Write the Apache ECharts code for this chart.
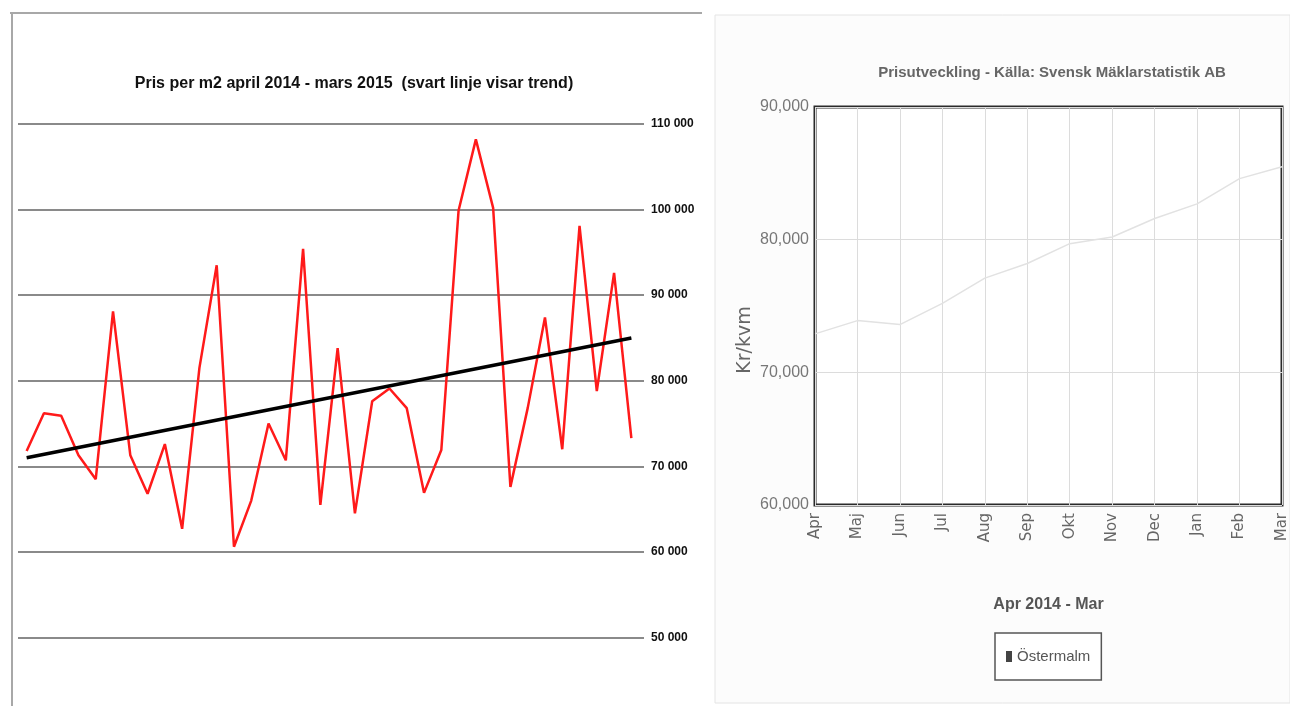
<!DOCTYPE html>
<html>
<head>
<meta charset="utf-8">
<script src="https://cdn.jsdelivr.net/npm/echarts@6/dist/echarts.min.js"></script>
<style>
html,body{margin:0;padding:0;background:#fff;}
#c{width:1290px;height:706px;}
</style>
</head>
<body>
<div id="c"></div>
<script>
// ---- Left chart data (36 periods, april 2014 - mars 2015) ----
const leftCategories = [
  'apr 1','apr 2','apr 3','maj 1','maj 2','maj 3','jun 1','jun 2','jun 3',
  'jul 1','jul 2','jul 3','aug 1','aug 2','aug 3','sep 1','sep 2','sep 3',
  'okt 1','okt 2','okt 3','nov 1','nov 2','nov 3','dec 1','dec 2','dec 3',
  'jan 1','jan 2','jan 3','feb 1','feb 2','feb 3','mar 1','mar 2','mar 3'
];
const leftPrices = [
  71800, 76200, 75900, 71300, 68500, 88100, 71300, 66800, 72600,
  62700, 81500, 93500, 60600, 66000, 75000, 70700, 95400, 65500,
  83800, 64500, 77600, 79100, 76800, 66900, 71900, 99900, 108200,
  100200, 67600, 76800, 87400, 72000, 98100, 78800, 92600, 73300
];
const leftTrend = [71000, 85000];            // trend line: start, end
const leftTicks = [50000, 60000, 70000, 80000, 90000, 100000, 110000];
const leftTickLabels = ['50 000','60 000','70 000','80 000','90 000','100 000','110 000'];

// ---- Right chart data ----
const rightMonths = ['Apr','Maj','Jun','Jul','Aug','Sep','Okt','Nov','Dec','Jan','Feb','Mar'];
const ostermalm = [72900, 73900, 73600, 75200, 77100, 78200, 79700, 80200, 81600, 82700, 84600, 85500];
const rightTicks = [60000, 70000, 80000, 90000];
const rightTickLabels = ['60,000','70,000','80,000','90,000'];

const narrow = "'Liberation Sans Narrow','Liberation Sans',Arial,sans-serif";
const wide = "'DejaVu Sans',Verdana,sans-serif";

const chart = echarts.init(document.getElementById('c'), null, {renderer:'canvas'});
chart.setOption({
  animation: false,
  backgroundColor: '#ffffff',
  graphic: [
    {type:'rect', shape:{x:715, y:15, width:575, height:688}, style:{fill:'#fcfcfc', stroke:'#e4e4e4', lineWidth:1}, z:-10},
    {type:'line', shape:{x1:12, y1:13, x2:12, y2:706}, style:{stroke:'#a8a8a8', lineWidth:2}, z:-5},
    {type:'line', shape:{x1:10, y1:13, x2:702, y2:13}, style:{stroke:'#a8a8a8', lineWidth:2}, z:-5}
  ],
  title: [
    {
      text: 'Pris per m2 april 2014 - mars 2015  (svart linje visar trend)',
      left: 349, top: 71, textAlign: 'center',
      textStyle: {fontFamily: narrow, fontWeight: 'bold', fontSize: 16, color: '#111'}
    },
    {
      text: 'Prisutveckling - Källa: Svensk Mäklarstatistik AB',
      left: 1047, top: 60, textAlign: 'center',
      textStyle: {fontFamily: narrow, fontWeight: 'bold', fontSize: 15, color: '#666'}
    }
  ],
  legend: {
    data: [{name: 'Östermalm', itemStyle: {color: '#444'}}],
    left: 995, top: 633, width: 105, height: 49,
    orient: 'horizontal',
    icon: 'rect', itemWidth: 6, itemHeight: 11, itemGap: 4,
    padding: [16, 11, 16, 11],
    borderColor: '#555', borderWidth: 1.5,
    backgroundColor: '#fff',
    textStyle: {fontFamily: narrow, fontSize: 15, color: '#555'}
  },
  grid: [
    {left: 18, top: 124, width: 622, height: 513.5, containLabel: false},
    {left: 815, top: 107, width: 467, height: 398, containLabel: false,
     show: true, borderColor: '#2a2a2a', borderWidth: 3, backgroundColor: '#ffffff'}
  ],
  xAxis: [
    {
      gridIndex: 0, type: 'category', data: leftCategories, boundaryGap: true,
      axisLine: {show: false}, axisTick: {show: false}, axisLabel: {show: false},
      splitLine: {show: false}
    },
    {
      gridIndex: 1, type: 'category', data: rightMonths, boundaryGap: false,
      name: 'Apr 2014 - Mar', nameLocation: 'middle', nameGap: 92,
      nameTextStyle: {fontFamily: narrow, fontWeight: 'bold', fontSize: 16, color: '#555'},
      axisLine: {show: false}, axisTick: {show: false},
      axisLabel: {rotate: 90, margin: 8, fontFamily: wide, fontSize: 15, color: '#666', interval: 0},
      splitLine: {show: true, lineStyle: {color: '#dcdcdc', width: 1}}
    }
  ],
  yAxis: [
    {
      gridIndex: 0, type: 'value', position: 'right',
      min: leftTicks[0], max: leftTicks[leftTicks.length-1], interval: 10000,
      axisLine: {show: false},
      axisTick: {show: true, length: 4, lineStyle: {color: '#8a8a8a', width: 2}},
      axisLabel: {
        margin: 11, fontFamily: narrow, fontWeight: 'bold', fontSize: 12, color: '#111',
        formatter: v => leftTickLabels[leftTicks.indexOf(v)] || ''
      },
      splitLine: {show: true, lineStyle: {color: '#8a8a8a', width: 2}}
    },
    {
      gridIndex: 1, type: 'value',
      min: rightTicks[0], max: rightTicks[rightTicks.length-1], interval: 10000,
      name: 'Kr/kvm', nameLocation: 'middle', nameGap: 60, nameRotate: 90,
      nameTextStyle: {fontFamily: wide, fontSize: 19, color: '#666', padding: [0, 68, 0, 0]},
      axisLine: {show: false}, axisTick: {show: false},
      axisLabel: {
        margin: 6, fontFamily: narrow, fontSize: 16, color: '#777',
        formatter: v => rightTickLabels[rightTicks.indexOf(v)] || ''
      },
      splitLine: {show: true, lineStyle: {color: '#dcdcdc', width: 1}}
    }
  ],
  series: [
    {
      name: 'Pris per m2', type: 'line', xAxisIndex: 0, yAxisIndex: 0,
      data: leftPrices, showSymbol: false, symbol: 'none',
      lineStyle: {color: '#ff1a1a', width: 2.5}, z: 3
    },
    {
      name: 'Trend', type: 'line', xAxisIndex: 0, yAxisIndex: 0,
      data: [[leftCategories[0], leftTrend[0]], [leftCategories[leftCategories.length-1], leftTrend[1]]],
      showSymbol: false, symbol: 'none',
      lineStyle: {color: '#000', width: 3.5}, z: 4
    },
    {
      name: 'Östermalm', type: 'line', xAxisIndex: 1, yAxisIndex: 1,
      data: ostermalm, showSymbol: false, symbol: 'none',
      itemStyle: {color: '#444'},
      lineStyle: {color: '#e2e2e2', width: 1.5}
    }
  ]
});
</script>
</body>
</html>
